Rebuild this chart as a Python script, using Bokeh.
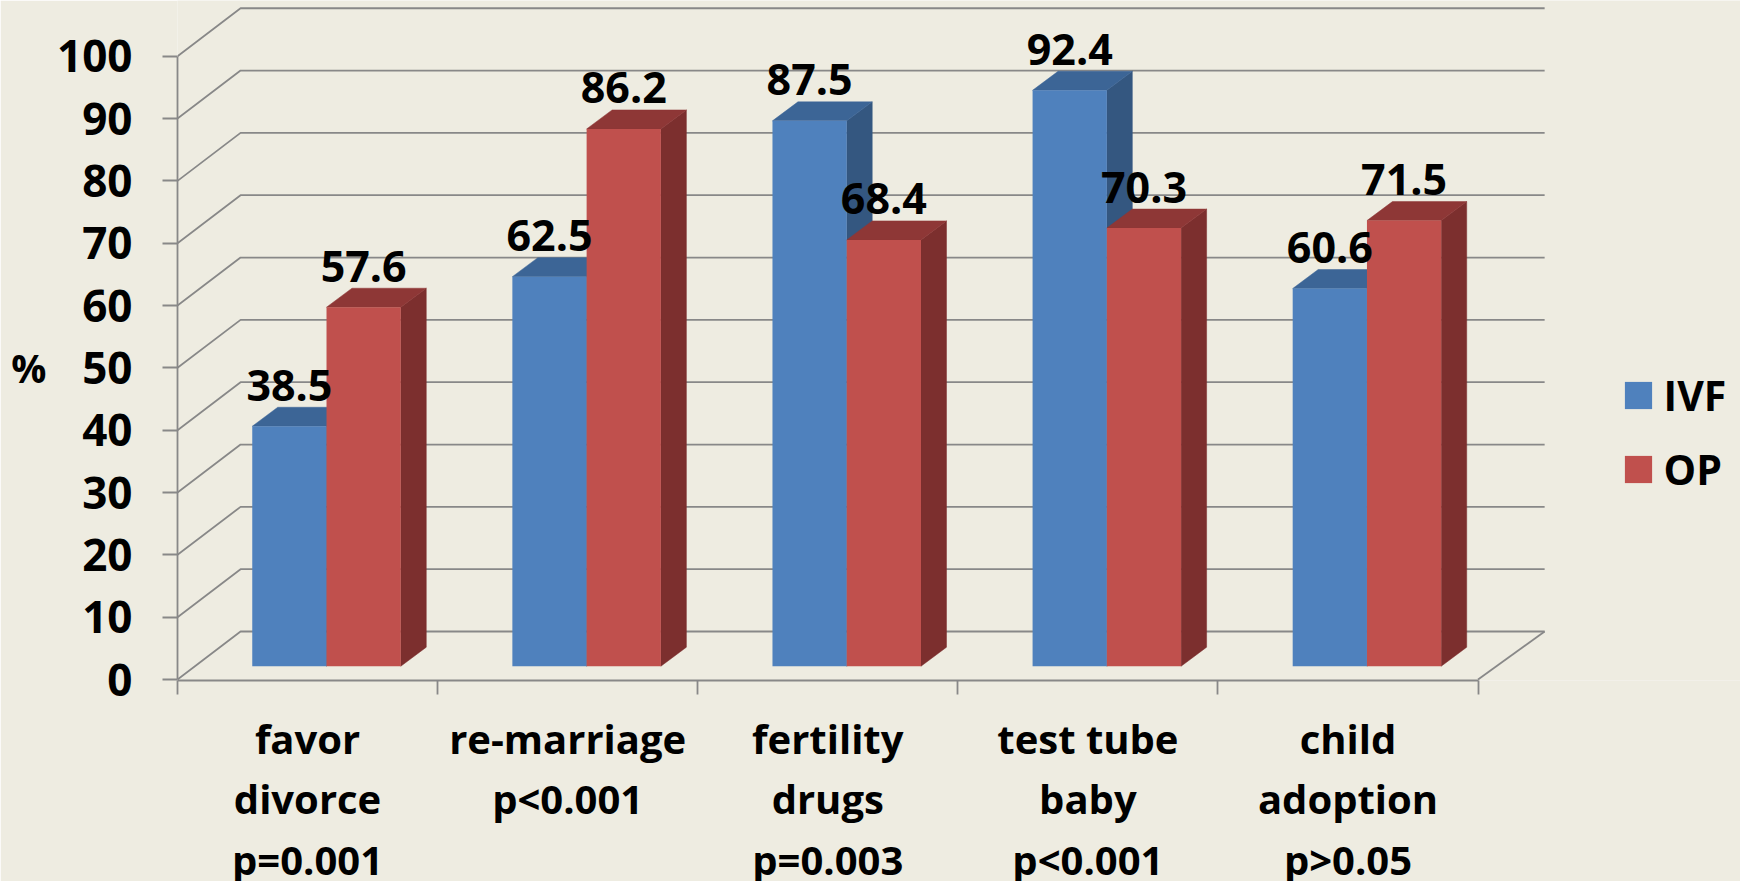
from bokeh.embed import file_html
from bokeh.resources import INLINE
from bokeh.plotting import figure
from bokeh.models import (FixedTicker, LinearAxis, Legend, LegendItem, Range1d, ColumnDataSource)
from bokeh.core.properties import value

categories = ["favor\ndivorce\np=0.001", "re-marriage\np<0.001", "fertility\ndrugs\np=0.003",
              "test tube\nbaby\np<0.001", "child\nadoption\np>0.05"]
ivf = [38.5, 62.5, 87.5, 92.4, 60.6]
op = [57.6, 86.2, 68.4, 70.3, 71.5]
y_ticks = list(range(0, 101, 10))

FONT = "Open Sans"
BG = "#EEECE1"
GRID = "#888888"
BLUE, BLUE_TOP, BLUE_SIDE = "#4F81BD", "#3C6596", "#345780"
RED, RED_TOP, RED_SIDE = "#C0504D", "#8E3736", "#7C2F2E"

# wall / bar depth in data units
WALL_DX, WALL_DY, WALL_END = 0.2424, 7.7, 5.256
BAR_OFF, BAR_W, BAR_DX, BAR_DY, BASE = 0.2874, 0.2855, 0.098, 3.05, 2.13

p = figure(frame_width=1563, frame_height=680, width=1740, height=881,
           x_range=Range1d(0, 6.009), y_range=Range1d(-0.16, 108.94),
           min_border_left=177, min_border_right=0, min_border_top=0, min_border_bottom=201,
           toolbar_location=None, output_backend="svg",
           background_fill_color=BG, border_fill_color=BG, outline_line_color=None)
p.grid.visible = False

# walls
xs_g, ys_g = [], []
for v in y_ticks:
    xs_g.append([0, WALL_DX, WALL_END])
    ys_g.append([v, v + WALL_DY, v + WALL_DY])
xs_g.append([5, WALL_END])
ys_g.append([0, WALL_DY])
p.multi_line(xs_g, ys_g, line_color=GRID, line_width=1.8)


def faces(vals, lefts):
    front = dict(x=[l + BAR_W / 2 for l in lefts], top=[BASE + v for v in vals], bottom=[BASE] * len(vals))
    side_x, side_y, top_x, top_y = [], [], [], []
    for l, v in zip(lefts, vals):
        r, t = l + BAR_W, BASE + v
        side_x.append([r, r + BAR_DX, r + BAR_DX, r])
        side_y.append([BASE, BASE + BAR_DY, t + BAR_DY, t])
        top_x.append([l, l + BAR_DX, r + BAR_DX, r])
        top_y.append([t, t + BAR_DY, t + BAR_DY, t])
    return front, side_x, side_y, top_x, top_y


def draw(vals, lefts, col, top_col, side_col):
    front, sx, sy, tx, ty = faces(vals, lefts)
    p.patches(sx, sy, fill_color=side_col, line_color=side_col, line_width=0.5)
    p.patches(tx, ty, fill_color=top_col, line_color=top_col, line_width=0.5)
    return p.vbar(x="x", top="top", bottom="bottom", width=BAR_W, source=ColumnDataSource(front),
                  fill_color=col, line_color=None)


idx = range(len(categories))
r_ivf = draw(ivf, [i + BAR_OFF for i in idx], BLUE, BLUE_TOP, BLUE_SIDE)
r_op = draw(op, [i + BAR_OFF + BAR_W for i in idx], RED, RED_TOP, RED_SIDE)

# value labels
for vals, off in ((ivf, BAR_OFF + BAR_W / 2), (op, BAR_OFF + 1.5 * BAR_W)):
    p.text([i + off for i in idx], [BASE + v for v in vals], text=[f"{v:.1f}" for v in vals],
           text_font=value(FONT), text_font_style="bold", text_font_size="43px",
           text_color="black", text_align="center", text_baseline="middle", y_offset=-41)

# axes
ya = p.yaxis[0]
ya.ticker = FixedTicker(ticks=y_ticks)
ya.bounds = (0, 100)
ya.axis_line_color = GRID
ya.axis_line_width = 1.8
ya.major_tick_line_color = GRID
ya.major_tick_line_width = 1.8
ya.major_tick_in = 0
ya.major_tick_out = 15
ya.minor_tick_line_color = None
ya.major_label_standoff = 30
ya.major_label_text_font = FONT
ya.major_label_text_font_style = "bold"
ya.major_label_text_font_size = "44px"
ya.major_label_text_color = "black"

# the "%" sits beside the numbers, level with 50
pct = LinearAxis(ticker=FixedTicker(ticks=[50]), major_label_overrides={50: "%"},
                 axis_line_color=None, major_tick_line_color=None, minor_tick_line_color=None,
                 major_tick_in=0, major_tick_out=0, major_label_standoff=8,
                 major_label_text_font=FONT, major_label_text_font_style="bold",
                 major_label_text_font_size="39px", major_label_text_color="black")
p.add_layout(pct, "left")

xa = p.xaxis[0]
xa.ticker = FixedTicker(ticks=[i + 0.5 for i in idx], minor_ticks=list(range(len(categories) + 1)))
xa.major_label_overrides = {i + 0.5: c for i, c in zip(idx, categories)}
xa.bounds = (0, 5)
xa.axis_line_color = GRID
xa.axis_line_width = 1.8
xa.major_tick_line_color = None
xa.major_tick_in = 0
xa.major_tick_out = 14
xa.minor_tick_line_color = GRID
xa.minor_tick_line_width = 1.8
xa.minor_tick_in = 0
xa.minor_tick_out = 14
xa.major_label_standoff = 16
xa.major_label_text_font = FONT
xa.major_label_text_font_style = "bold"
xa.major_label_text_font_size = "40px"
xa.major_label_text_color = "black"
xa.major_label_text_line_height = 1.1

legend = Legend(items=[LegendItem(label="IVF", renderers=[r_ivf]), LegendItem(label="OP", renderers=[r_op])],
                location=(1443.6, 183), orientation="vertical", background_fill_alpha=0, border_line_color=None,
                glyph_width=34, glyph_height=34, label_standoff=9, padding=0, margin=0, spacing=18,
                label_text_font=FONT, label_text_font_style="bold", label_text_font_size="41px",
                label_text_color="black")
p.add_layout(legend)

open("out.html", "w").write(file_html(p, INLINE))
